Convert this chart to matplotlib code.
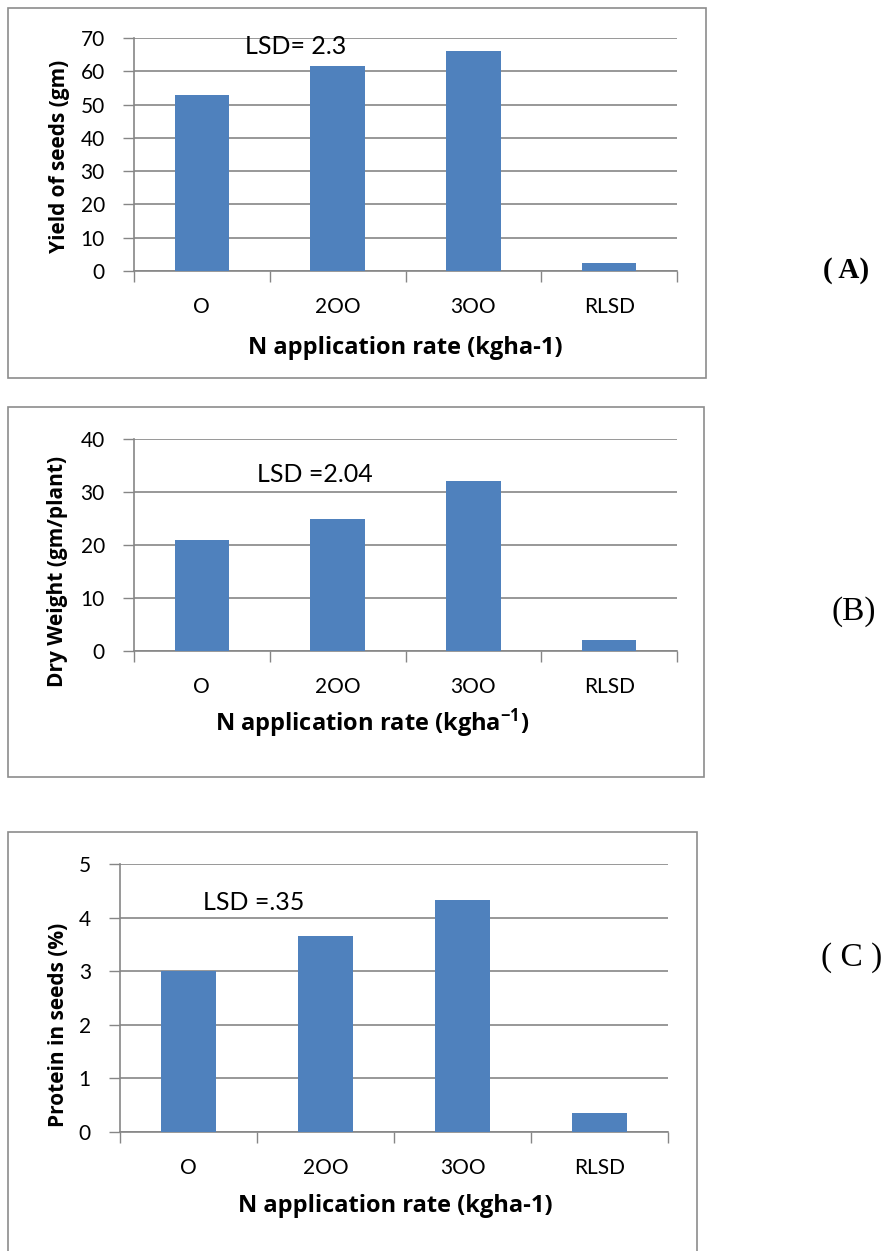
import matplotlib
matplotlib.use("Agg")
import matplotlib.pyplot as plt
from matplotlib.patches import Rectangle

plt.rcParams['font.family'] = ['Lato', 'DejaVu Sans']
plt.rcParams['mathtext.fontset'] = 'custom'
plt.rcParams['mathtext.rm'] = 'Open Sans:bold'
plt.rcParams['mathtext.default'] = 'rm'

categories = ['O', '2OO', '3OO', 'RLSD']

yield_seeds = [53, 61.5, 66, 2.3]
dry_weight = [21, 25, 32, 2.04]
protein = [3.0, 3.66, 4.32, 0.35]

lsd_text = ['LSD= 2.3', 'LSD =2.04', 'LSD =.35']
ylabels = ['Yield of seeds (gm)', 'Dry Weight (gm/plant)', 'Protein in seeds (%)']
xlabels = ['N application rate (kgha-1)', 'N application rate (kgha$^{-1}$)',
           'N application rate (kgha-1)']
panel_tags = ['( A)', '(B)', '( C )']

W, H = 885, 1251
fig = plt.figure(figsize=(W / 100, H / 100), dpi=100)

bar_col = '#4F81BD'
grid_col = '#868686'


def frac(x0, y0, x1, y1):
    # pixel box (top-left origin) -> figure fraction rect
    return [x0 / W, 1 - y1 / H, (x1 - x0) / W, (y1 - y0) / H]


def put(xy, s, **kw):
    return fig.text(xy[0] / W, 1 - xy[1] / H, s, ha='center', va='center', **kw)


def panel(box, ax_px, vals, ymax, step, lsd, lsd_xy, ylab, ylab_xy, xlab, xlab_xy):
    fig.patches.append(Rectangle((box[0] / W, 1 - box[3] / H),
                                 (box[2] - box[0]) / W, (box[3] - box[1]) / H,
                                 transform=fig.transFigure, fill=False,
                                 edgecolor='#8c8c8c', lw=1.2))
    ax = fig.add_axes(frac(*ax_px))
    x = range(len(categories))
    ax.bar(x, vals, width=0.4, color=bar_col, zorder=3)
    ax.set_xlim(-0.5, len(categories) - 0.5)
    ax.set_ylim(0, ymax)
    ax.set_yticks([i * step for i in range(int(ymax / step) + 1)])
    # category separators as major ticks, names on minor ticks
    ax.set_xticks([i - 0.5 for i in range(len(categories) + 1)])
    ax.set_xticklabels([])
    ax.set_xticks(list(x), minor=True)
    ax.set_xticklabels(categories, minor=True, fontsize=15)
    ax.tick_params(axis='x', which='minor', length=0, pad=19)
    ax.tick_params(axis='x', which='major', length=8, width=1, color=grid_col, direction='out')
    ax.tick_params(axis='y', length=8, width=1, color=grid_col, pad=13, labelsize=15)
    ax.yaxis.grid(True, color=grid_col, lw=1.2, zorder=0)
    for s in ['top', 'right']:
        ax.spines[s].set_visible(False)
    for s in ['left', 'bottom']:
        ax.spines[s].set_color(grid_col)
        ax.spines[s].set_linewidth(1.2)
    put(lsd_xy, lsd, fontsize=18)
    put(ylab_xy, ylab, rotation=90, fontsize=15, fontweight='bold', family='Open Sans')
    put(xlab_xy, xlab, fontsize=17, fontweight='bold', family='Open Sans')
    return ax


panel((8, 8, 706, 378), (134, 38, 677, 271), yield_seeds, 70, 10,
      lsd_text[0], (296, 47), ylabels[0], (60, 156), xlabels[0], (405, 348))
panel((8, 407, 704, 777), (134, 439, 677, 651), dry_weight, 40, 10,
      lsd_text[1], (315, 475), ylabels[1], (58, 571), xlabels[1], (372, 723))
panel((8, 832, 697, 1262), (120, 864, 668, 1132), protein, 5, 1,
      lsd_text[2], (254, 902), ylabels[2], (59, 1025), xlabels[2], (395, 1206))

put((846, 270), panel_tags[0], family='Liberation Serif', fontsize=21, fontweight='bold')
put((854, 612), panel_tags[1], family='Liberation Serif', fontsize=24)
put((852, 958), panel_tags[2], family='Liberation Serif', fontsize=24)

fig.savefig('out.png', dpi=100)
